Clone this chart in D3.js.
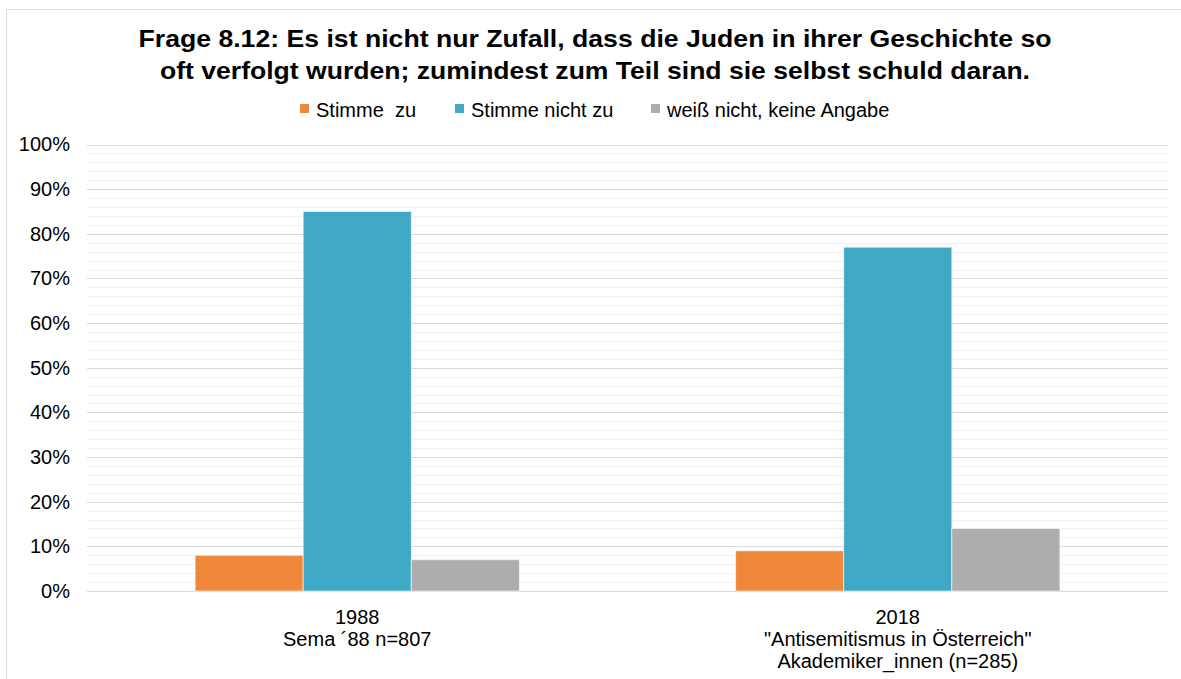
<!DOCTYPE html>
<html><head><meta charset="utf-8">
<script src="https://cdn.jsdelivr.net/npm/d3@7"></script>
<style>body{margin:0;background:#fff;}svg{display:block;font-family:"Liberation Sans",Arial,sans-serif;}</style>
</head><body><svg id="c" width="1181" height="679"></svg>
<script>
const categories = [["1988","Sema ´88 n=807"],["2018","\"Antisemitismus in Österreich\"","Akademiker_innen (n=285)"]];
const categoryKeys = ["1988","2018"];
const seriesNames = ["Stimme  zu","Stimme nicht zu","weiß nicht, keine Angabe"];
const seriesColors = ["#F0883A","#3FA8C5","#ADADAD"];
const stimmeZu = [8,9];
const stimmeNichtZu = [85,77];
const weissNicht = [7,14];
const yTicks = [0,10,20,30,40,50,60,70,80,90,100];
const titleLines = ["Frage 8.12: Es ist nicht nur Zufall, dass die Juden in ihrer Geschichte so","oft verfolgt wurden; zumindest zum Teil sind sie selbst schuld daran."];

const svg = d3.select("#c");
svg.append("rect").attr("x",6.5).attr("y",9.5).attr("width",1200).attr("height",700).attr("fill","#fff").attr("stroke","#d9d9d9");

const L=87, R=1168, T=144.5, B=591;
const y = d3.scaleLinear().domain([0,100]).range([B,T]);
const x0 = d3.scaleBand().domain(categoryKeys).range([L,R]).paddingInner(0.4).paddingOuter(0.2);
const x1 = d3.scaleBand().domain(seriesNames).range([0,x0.bandwidth()]);

// minor grid
const minor = d3.range(0,101,2).filter(v=>v%10!==0);
svg.append("g").selectAll("line").data(minor).join("line")
  .attr("x1",L).attr("x2",R).attr("y1",d=>Math.round(y(d))+0.5).attr("y2",d=>Math.round(y(d))+0.5)
  .attr("stroke","#f0f0f0").attr("stroke-width",1);
svg.append("g").selectAll("line").data(yTicks).join("line")
  .attr("x1",L).attr("x2",R).attr("y1",d=>Math.round(y(d))+0.5).attr("y2",d=>Math.round(y(d))+0.5)
  .attr("stroke","#d9d9d9").attr("stroke-width",1);

// y axis labels
const yAxis = d3.axisLeft(y).tickValues(yTicks).tickFormat(d=>d+"%").tickSize(0).tickPadding(17);
const ga = svg.append("g").attr("transform",`translate(${L},0)`).call(yAxis);
ga.select(".domain").remove();
ga.selectAll("text").attr("font-size","20px").attr("fill","#000").attr("font-family","Liberation Sans, Arial, sans-serif");

// bars
const data = categoryKeys.map((k,i)=>({k, vals:[stimmeZu[i],stimmeNichtZu[i],weissNicht[i]]}));
const g = svg.append("g");
data.forEach(d=>{
  g.append("g").attr("transform",`translate(${x0(d.k)},0)`).selectAll("rect")
    .data(d.vals.map((v,j)=>({v,s:seriesNames[j],c:seriesColors[j]}))).join("rect")
    .attr("x",e=>x1(e.s)).attr("width",x1.bandwidth()).attr("y",e=>y(e.v)).attr("height",e=>B-y(e.v))
    .attr("fill",e=>e.c).attr("stroke","rgba(255,255,255,0.6)").attr("stroke-width",1);
});

// x labels
categories.forEach((lines,i)=>{
  const cx = x0(categoryKeys[i])+x0.bandwidth()/2;
  const t = svg.append("text").attr("x",cx).attr("y",624).attr("text-anchor","middle").attr("font-size","20px").attr("fill","#000");
  lines.forEach((ln,j)=>t.append("tspan").attr("x",cx).attr("dy",j===0?0:22).text(ln));
});

// title
const titleW = [913, 870];
titleLines.forEach((ln,j)=>{
  svg.append("text").attr("x",595).attr("y",47+j*32).attr("text-anchor","middle").attr("font-size","24px")
    .attr("font-weight","bold").attr("fill","#000")
    .attr("textLength",titleW[j]).attr("lengthAdjust","spacingAndGlyphs").text(ln);
});

// legend
const legX = [300,455,651];
seriesNames.forEach((s,i)=>{
  svg.append("rect").attr("x",legX[i]).attr("y",104).attr("width",9).attr("height",9).attr("fill",seriesColors[i]);
  svg.append("text").attr("x",legX[i]+16).attr("y",117).attr("font-size","20px").attr("fill","#000").style("white-space","pre").text(s);
});
</script></body></html>
